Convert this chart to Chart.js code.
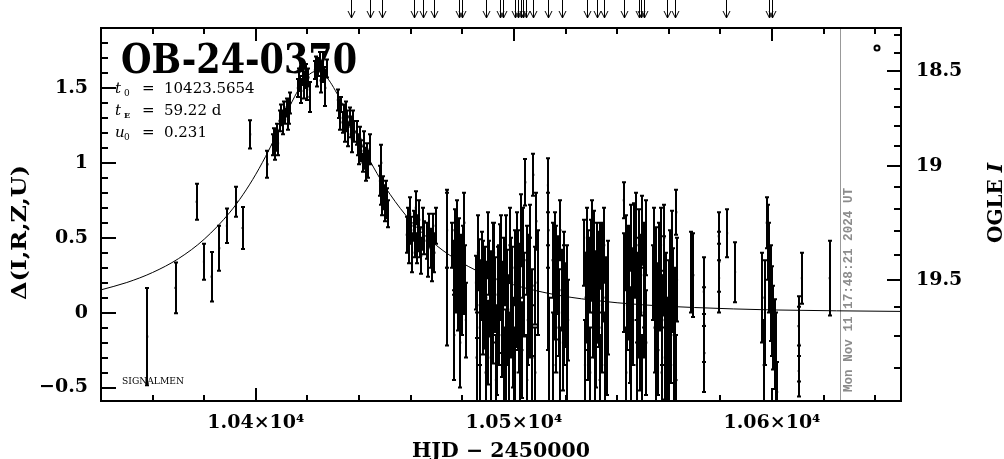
<!DOCTYPE html>
<html>
<head>
<meta charset="utf-8">
<script src="https://cdn.jsdelivr.net/npm/chart.js@4"></script>
<style>
    html, body { margin: 0; padding: 0; background: #fff; }
    canvas { display: block; }
</style>
</head>
<body>
<canvas id="lightCurve" width="1004" height="459"></canvas>
<script>
// event + fit parameters shown on the plot
const eventName = 'OB-24-0370';
const fitLines = [['t', '0', '10423.5654'], ['t', 'E', '59.22 d'], ['u', '0', '0.231']];
const nowHjd = 10626.24;
const nowLabel = 'Mon Nov 11 17:48:21 2024 UT';

const xMin = 10340, xMax = 10650;
const yMin = -0.59, yMax = 1.9;

// model curve
const modelHjd = [10340, 10350, 10360, 10370, 10380, 10390, 10395, 10400, 10405, 10410,
    10415, 10420, 10423.6, 10427, 10432, 10437, 10442, 10447, 10452, 10460,
    10470, 10480, 10490, 10500, 10515, 10530, 10550, 10570, 10600, 10650];
const modelDelta = [0.152, 0.201, 0.268, 0.360, 0.490, 0.671, 0.787, 0.924, 1.083, 1.261,
    1.441, 1.578, 1.612, 1.580, 1.445, 1.266, 1.087, 0.928, 0.790, 0.612,
    0.448, 0.331, 0.246, 0.185, 0.123, 0.084, 0.052, 0.034, 0.018, 0.008];

// observations: HJD-2450000, delta, error
const obsHjd = [
    10357.9, 10368.9, 10377.1, 10379.9, 10382.9, 10385.8, 10388.8, 10392.5, 10394.9, 10397.8,
    10404.5, 10406.5, 10406.9, 10407.3, 10407.8, 10408.3, 10408.6, 10409.2, 10409.6, 10410.1, 10410.5, 10411.0, 10411.4, 10411.9, 10412.4, 10412.8, 10413.3,
    10416.3, 10416.7, 10417.2, 10417.6, 10418.1, 10418.5, 10419.0, 10419.4, 10419.9, 10420.4, 10420.8,
    10422.9, 10423.3, 10423.8, 10424.2, 10424.7, 10425.1, 10425.6, 10426.0, 10426.5, 10426.9, 10427.4,
    10431.8, 10432.2, 10432.7, 10433.1, 10433.6, 10434.0, 10434.5, 10434.9, 10435.4, 10435.8, 10436.3, 10436.7, 10437.2, 10437.6, 10438.1,
    10439.1, 10439.6, 10440.0, 10440.5, 10440.9, 10441.4, 10441.8, 10442.3, 10442.7, 10443.2, 10443.6, 10444.1,
    10448.1, 10448.5, 10448.6, 10448.9, 10449.3, 10449.7, 10450.1, 10450.5, 10450.9, 10451.2,
    10458.5, 10458.9, 10459.3, 10459.8, 10460.2, 10460.6, 10461.1, 10461.5, 10462.0, 10462.4, 10462.8, 10463.3, 10463.7, 10464.1, 10464.6, 10465.0,
    10466.2, 10466.7, 10467.2, 10467.7, 10468.2, 10468.7, 10469.2, 10469.7, 10473.9, 10474.1,
    10476.2, 10476.6, 10477.0, 10477.4, 10477.8, 10478.2, 10478.6, 10479.0, 10479.4, 10479.8, 10480.2, 10480.6, 10481.0, 10481.4,
    10476.9, 10478.0, 10479.2, 10480.8,
    10485.3, 10485.8, 10486.3, 10486.8, 10487.3, 10487.8, 10488.3, 10488.8, 10489.3, 10489.8, 10490.3, 10490.8, 10491.3, 10491.8, 10492.3,
    10492.8, 10493.3, 10493.8, 10494.3, 10494.8, 10495.3, 10495.8, 10496.3, 10496.8, 10497.3, 10497.8, 10498.3, 10498.8, 10499.3, 10499.8,
    10485.55, 10486.05, 10487.05, 10488.05, 10489.05, 10490.05, 10491.05, 10492.05, 10493.05, 10494.05, 10495.05, 10496.05, 10497.05, 10498.05, 10499.05,
    10500.3, 10500.8, 10501.3, 10501.8, 10502.3, 10502.8, 10503.3, 10503.8, 10504.4, 10504.9, 10505.4, 10505.9, 10506.4, 10506.9, 10507.5, 10508.0, 10508.7,
    10500.55, 10501.55, 10502.55, 10503.55, 10505.15, 10506.15, 10507.15, 10508.3, 10509.2,
    10513.2, 10513.3, 10513.4, 10513.5,
    10515.0, 10515.5, 10516.0, 10516.5, 10517.0, 10517.5, 10518.0, 10518.5, 10519.0, 10519.5, 10520.0, 10520.5, 10521.0,
    10515.25, 10516.25, 10517.75, 10519.25, 10520.75,
    10527.3, 10527.8, 10528.3, 10528.8, 10529.3, 10530.0, 10530.5, 10531.0, 10531.5, 10532.0, 10532.5, 10533.0, 10533.5, 10534.0, 10534.5, 10535.0, 10535.5, 10536.0,
    10527.55, 10528.55, 10529.55, 10530.25, 10531.25, 10532.25, 10533.25, 10534.25, 10535.25, 10536.3,
    10542.6, 10542.8,
    10543.3, 10543.8, 10544.3, 10544.8, 10545.3, 10545.8, 10546.3, 10546.8, 10547.3, 10547.8, 10548.3, 10548.8, 10549.3, 10549.8, 10550.3, 10550.8,
    10543.55, 10544.55, 10545.55, 10546.55, 10547.55, 10548.55, 10549.55, 10550.55, 10551.0, 10551.3,
    10554.0, 10554.5, 10555.0, 10555.5, 10556.0, 10556.5, 10557.0, 10557.5, 10558.0, 10558.5, 10559.0,
    10560.0, 10560.5, 10561.0, 10561.5, 10562.0, 10562.5, 10562.9, 10563.2,
    10554.25, 10555.25, 10556.25, 10557.25, 10558.25, 10559.25, 10560.25, 10561.25, 10562.25, 10563.0,
    10568.7, 10569.5, 10573.6, 10573.7, 10573.8, 10579.4, 10579.5, 10579.6, 10582.6, 10585.7,
    10596.3, 10596.8, 10597.3, 10598.0, 10598.5, 10599.0, 10599.5, 10600.0, 10600.5, 10601.0, 10601.5, 10602.0,
    10610.3, 10610.4, 10610.5, 10611.6, 10622.4
];
const obsDelta = [
    -0.16, 0.165, 0.74, 0.34, 0.24, 0.43, 0.58, 0.74, 0.565, 1.19,
    0.99, 1.12, 1.17, 1.10, 1.15, 1.20, 1.13, 1.28, 1.33, 1.30, 1.26, 1.35, 1.31, 1.37, 1.29, 1.34, 1.40,
    1.50, 1.56, 1.53, 1.48, 1.58, 1.52, 1.55, 1.60, 1.49, 1.57, 1.44,
    1.62, 1.66, 1.58, 1.64, 1.69, 1.55, 1.61, 1.67, 1.59, 1.50, 1.63,
    1.42, 1.36, 1.30, 1.39, 1.27, 1.33, 1.22, 1.35, 1.28, 1.19, 1.31, 1.24, 1.16, 1.29, 1.21,
    1.20, 1.12, 1.05, 1.16, 1.08, 1.00, 1.12, 1.03, 0.96, 1.07, 0.99, 1.09,
    0.88, 0.80, 1.00, 0.74, 0.84, 0.77, 0.70, 0.81, 0.73, 0.66,
    0.52, 0.60, 0.45, 0.66, 0.55, 0.40, 0.58, 0.49, 0.70, 0.43, 0.53, 0.62, 0.47, 0.38, 0.56, 0.50,
    0.48, 0.38, 0.55, 0.43, 0.33, 0.51, 0.40, 0.58, 0.30, 0.55,
    0.45, 0.30, 0.55, 0.20, 0.38, 0.10, 0.48, 0.25, 0.35, 0.05, 0.42, 0.18, 0.30, -0.05,
    -0.15, 0.55, -0.20, 0.60,
    0.20, 0.05, 0.32, -0.10, 0.15, 0.38, -0.02, 0.25, 0.10, -0.20, 0.30, 0.05, 0.18, -0.08, 0.40,
    0.12, -0.25, 0.22, 0.00, 0.35, -0.15, 0.08, 0.28, -0.30, 0.15, -0.05, 0.45, 0.02, 0.20, -0.20,
    -0.30, 0.40, -0.35, 0.10, -0.40, 0.45, -0.30, 0.20, -0.45, 0.05, 0.30, -0.40, 0.35, -0.35, 0.10,
    0.30, 0.05, 0.45, -0.10, 0.20, 0.55, -0.25, 0.12, 0.87, 0.35, -0.05, 0.25, 0.50, 0.00, 0.92, 0.18, 0.61,
    -0.40, 0.15, -0.35, 0.40, -0.45, 0.10, -0.30, -0.40, 0.20,
    0.85, 0.10, 0.55, -0.25,
    0.35, 0.10, 0.45, -0.10, 0.25, 0.00, 0.55, 0.15, -0.20, 0.30, 0.05, 0.20, -0.05,
    -0.35, 0.20, -0.40, 0.05, -0.30,
    0.40, 0.10, 0.50, -0.15, 0.25, 0.35, 0.00, 0.45, 0.15, -0.20, 0.30, 0.05, 0.38, -0.10, 0.20, 0.45, 0.10, -0.25,
    -0.35, 0.15, -0.40, 0.50, -0.30, 0.20, -0.45, 0.30, -0.35, 0.10,
    0.75, 0.20,
    0.40, 0.05, 0.30, -0.15, 0.50, 0.15, -0.05, 0.35, 0.60, 0.10, 0.45, -0.20, 0.25, 0.55, 0.00, 0.30,
    -0.40, 0.20, -0.30, 0.45, -0.35, 0.10, -0.45, 0.25, 0.50, -0.20,
    0.20, -0.10, 0.35, 0.05, -0.25, 0.15, 0.45, -0.05, 0.25, -0.30, 0.10,
    0.05, 0.30, -0.15, 0.15, -0.35, 0.00, 0.67, 0.22,
    0.45, -0.35, 0.30, -0.40, 0.50, -0.25, -0.40, 0.40, -0.20, -0.45,
    0.27, 0.25, 0.14, -0.08, -0.27, 0.51, 0.23, 0.34, 0.53, 0.27,
    0.10, -0.35, 0.00, 0.60, 0.47, 0.30, 0.13, 0.01, -0.10, -0.21, -0.30, -0.53,
    -0.09, -0.39, -0.21, 0.23, 0.23
];
const obsErr = [
    0.325, 0.17, 0.12, 0.12, 0.165, 0.15, 0.115, 0.10, 0.14, 0.095,
    0.09, 0.07, 0.06, 0.08, 0.07, 0.06, 0.08, 0.07, 0.06, 0.05, 0.07, 0.06, 0.05, 0.06, 0.07, 0.08, 0.07,
    0.06, 0.07, 0.05, 0.08, 0.06, 0.09, 0.05, 0.06, 0.07, 0.06, 0.10,
    0.06, 0.05, 0.07, 0.06, 0.05, 0.08, 0.06, 0.07, 0.05, 0.12, 0.06,
    0.07, 0.06, 0.08, 0.05, 0.07, 0.06, 0.08, 0.06, 0.07, 0.08, 0.06, 0.07, 0.09, 0.06, 0.07,
    0.08, 0.07, 0.06, 0.08, 0.07, 0.06, 0.09, 0.07, 0.08, 0.06, 0.09, 0.10,
    0.10, 0.08, 0.12, 0.09, 0.07, 0.08, 0.09, 0.07, 0.10, 0.09,
    0.12, 0.10, 0.12, 0.11, 0.09, 0.13, 0.10, 0.12, 0.11, 0.10, 0.12, 0.13, 0.10, 0.12, 0.14, 0.11,
    0.12, 0.14, 0.11, 0.13, 0.12, 0.15, 0.13, 0.12, 0.52, 0.25,
    0.15, 0.18, 0.14, 0.20, 0.16, 0.22, 0.15, 0.18, 0.17, 0.20, 0.16, 0.19, 0.15, 0.25,
    0.30, 0.20, 0.30, 0.20,
    0.18, 0.22, 0.17, 0.25, 0.20, 0.16, 0.22, 0.19, 0.24, 0.28, 0.18, 0.21, 0.23, 0.26, 0.20,
    0.25, 0.30, 0.22, 0.27, 0.24, 0.28, 0.26, 0.22, 0.32, 0.27, 0.30, 0.25, 0.29, 0.24, 0.30,
    0.30, 0.25, 0.35, 0.38, 0.30, 0.22, 0.35, 0.40, 0.30, 0.40, 0.35, 0.30, 0.30, 0.35, 0.40,
    0.25, 0.28, 0.22, 0.30, 0.26, 0.24, 0.32, 0.28, 0.155, 0.23, 0.30, 0.27, 0.22, 0.29, 0.14, 0.26, 0.19,
    0.30, 0.40, 0.35, 0.30, 0.30, 0.40, 0.35, 0.30, 0.35,
    0.18, 0.35, 0.25, 0.35,
    0.25, 0.28, 0.22, 0.30, 0.26, 0.29, 0.20, 0.27, 0.32, 0.24, 0.28, 0.25, 0.27,
    0.35, 0.38, 0.30, 0.40, 0.35,
    0.22, 0.30, 0.20, 0.30, 0.25, 0.27, 0.30, 0.23, 0.26, 0.30, 0.24, 0.28, 0.22, 0.30, 0.26, 0.25, 0.27, 0.30,
    0.30, 0.40, 0.30, 0.25, 0.35, 0.40, 0.30, 0.30, 0.35, 0.38,
    0.12, 0.33,
    0.25, 0.30, 0.28, 0.32, 0.22, 0.28, 0.30, 0.25, 0.20, 0.30, 0.24, 0.32, 0.27, 0.23, 0.30, 0.26,
    0.30, 0.38, 0.35, 0.28, 0.30, 0.40, 0.30, 0.35, 0.25, 0.35,
    0.25, 0.30, 0.22, 0.28, 0.30, 0.27, 0.25, 0.30, 0.26, 0.28, 0.30,
    0.30, 0.25, 0.32, 0.28, 0.30, 0.30, 0.15, 0.28,
    0.25, 0.30, 0.30, 0.30, 0.22, 0.35, 0.30, 0.28, 0.35, 0.30,
    0.27, 0.28, 0.23, 0.25, 0.26, 0.16, 0.23, 0.20, 0.16, 0.20,
    0.30, 0.30, 0.35, 0.17, 0.25, 0.30, 0.32, 0.30, 0.28, 0.30, 0.30, 0.20,
    0.20, 0.17, 0.25, 0.17, 0.25
];

// dates marked with arrows above the frame
const arrowHjd = [10436.8, 10444.1, 10448.7, 10461.1, 10464.6, 10468.9, 10478.9, 10479.7, 10489.0, 10494.8,
    10495.6, 10500.6, 10501.7, 10502.9, 10503.7, 10504.8, 10507.5, 10513.3, 10518.8, 10528.4,
    10532.3, 10535.0, 10542.7, 10548.5, 10549.3, 10550.5, 10559.4, 10562.5, 10582.2, 10598.8, 10600.0];

// axis ticks
const xTicks = [10360, 10380, 10400, 10420, 10440, 10460, 10480, 10500, 10520, 10540, 10560, 10580, 10600, 10620, 10640];
const xMajor = [10400, 10500, 10600];
const xMajorLabels = ['1.04×10⁴', '1.05×10⁴', '1.06×10⁴'];
const leftTicks = [-0.5, -0.4, -0.3, -0.2, -0.1, 0, 0.1, 0.2, 0.3, 0.4, 0.5, 0.6, 0.7, 0.8, 0.9, 1, 1.1, 1.2, 1.3, 1.4, 1.5, 1.6, 1.7, 1.8, 1.9];
const leftMajorLabels = { '-0.5': '\u22120.5', '0': '0', '0.5': '0.5', '1': '1', '1.5': '1.5' };
const rightMags = [18.3, 18.4, 18.5, 18.6, 18.7, 18.8, 18.9, 19.0, 19.1, 19.2, 19.3, 19.4, 19.5, 19.6, 19.7, 19.8];
const rightMajorLabels = { '18.5': '18.5', '19': '19', '19.5': '19.5' };

// OGLE I magnitude -> delta (baseline mag and blended flux fraction)
const baseMag = 19.62;
const blendFrac = 0.473;
function magToDelta(m) {
    const flux = Math.pow(10, -0.4 * (m - baseMag));
    return 2.5 * Math.log10((flux - blendFrac) / (1 - blendFrac));
}

const serif = '"DejaVu Serif", "Liberation Serif", serif';
const tickFont = { family: serif, size: 19, weight: 'bold' };

function fitText(ctx, text, x, y, width) {
    const w = ctx.measureText(text).width;
    ctx.save();
    ctx.translate(x, y);
    ctx.scale(width / w, 1);
    ctx.fillText(text, 0, 0);
    ctx.restore();
}

const annotations = {
    id: 'annotations',
    beforeDatasetsDraw(chart) {
        const { ctx, chartArea: a, scales: { x, y } } = chart;
        ctx.save();
        ctx.fillStyle = '#000';
        ctx.textBaseline = 'alphabetic';

        // event name
        ctx.font = 'bold 41px ' + serif;
        fitText(ctx, eventName, 121, 73, 236);

        // fit parameters
        fitLines.forEach(([sym, sub, val], i) => {
            const base = 93 + i * 22;
            ctx.font = 'italic 15px ' + serif;
            ctx.fillText(sym, 115, base);
            ctx.font = (sub === 'E' ? 'bold 8px ' : '9px ') + serif;
            ctx.fillText(sub, 124, base + 3);
            ctx.font = '15px ' + serif;
            ctx.fillText('=', 142, base);
            ctx.fillText(val, 164, base);
        });

        ctx.font = '9px ' + serif;
        fitText(ctx, 'SIGNALMEN', 122, 384, 62);

        // current time marker
        const nx = Math.round(x.getPixelForValue(nowHjd)) + 0.5;
        ctx.strokeStyle = '#999';
        ctx.lineWidth = 1;
        ctx.beginPath();
        ctx.moveTo(nx, a.top);
        ctx.lineTo(nx, a.bottom);
        ctx.stroke();
        ctx.save();
        ctx.translate(nx + 11.5, a.bottom - 9);
        ctx.rotate(-Math.PI / 2);
        ctx.fillStyle = '#8c8c8c';
        ctx.font = 'bold 12.5px "Liberation Mono", "DejaVu Sans Mono", monospace';
        fitText(ctx, nowLabel, 0, 0, 204);
        ctx.restore();

        // small marker top right
        ctx.lineWidth = 2;
        ctx.strokeStyle = '#000';
        ctx.beginPath();
        ctx.arc(877, 48, 2.5, 0, Math.PI * 2);
        ctx.stroke();

        // arrows above the frame
        ctx.lineWidth = 1;
        ctx.beginPath();
        arrowHjd.forEach(h => {
            const px = Math.round(x.getPixelForValue(h)) + 0.5;
            ctx.moveTo(px, 0);
            ctx.lineTo(px, 18);
            ctx.moveTo(px - 3.5, 11);
            ctx.lineTo(px, 18);
            ctx.lineTo(px + 3.5, 11);
        });
        ctx.stroke();

        // axis titles
        ctx.font = 'bold 20px ' + serif;
        fitText(ctx, 'HJD \u2212 2450000', 412, 457, 178);
        ctx.save();
        ctx.translate(26, 300);
        ctx.rotate(-Math.PI / 2);
        fitText(ctx, '\u0394(I,R,Z,U)', 0, 0, 135);
        ctx.restore();
        ctx.save();
        ctx.translate(1002, 243);
        ctx.rotate(-Math.PI / 2);
        ctx.font = 'bold 20px ' + serif;
        ctx.fillText('OGLE ', 0, 0);
        const w = ctx.measureText('OGLE ').width;
        ctx.font = 'bold italic 20px ' + serif;
        ctx.fillText('I', w, 0);
        ctx.restore();

        // error bars
        ctx.save();
        ctx.beginPath();
        ctx.rect(a.left, a.top, a.right - a.left, a.bottom - a.top);
        ctx.clip();
        ctx.lineWidth = 2;
        ctx.beginPath();
        obsHjd.forEach((h, i) => {
            const px = Math.round(x.getPixelForValue(h));
            const top = y.getPixelForValue(obsDelta[i] + obsErr[i]);
            const bot = y.getPixelForValue(obsDelta[i] - obsErr[i]);
            ctx.moveTo(px, top);
            ctx.lineTo(px, bot);
            ctx.moveTo(px - 2, top);
            ctx.lineTo(px + 2, top);
            ctx.moveTo(px - 2, bot);
            ctx.lineTo(px + 2, bot);
        });
        ctx.stroke();
        ctx.restore();
        ctx.restore();
    },
    afterDatasetsDraw(chart) {
        const { ctx, chartArea: a, scales } = chart;
        ctx.save();
        ctx.strokeStyle = '#000';
        ctx.lineWidth = 2;
        ctx.beginPath();
        scales.x.ticks.forEach(t => {
            const px = Math.round(scales.x.getPixelForValue(t.value));
            const len = xMajor.includes(t.value) ? 13 : 6;
            ctx.moveTo(px, a.bottom);
            ctx.lineTo(px, a.bottom - len);
            ctx.moveTo(px, a.top);
            ctx.lineTo(px, a.top + len);
        });
        scales.y.ticks.forEach(t => {
            const py = Math.round(scales.y.getPixelForValue(t.value));
            const len = (String(t.value) in leftMajorLabels) ? 15 : 7;
            ctx.moveTo(a.left, py);
            ctx.lineTo(a.left + len, py);
        });
        scales.y2.ticks.forEach(t => {
            const py = Math.round(scales.y2.getPixelForValue(t.value));
            const len = (String(t.mag) in rightMajorLabels) ? 14 : 7;
            ctx.moveTo(a.right, py);
            ctx.lineTo(a.right - len, py);
        });
        ctx.stroke();
        ctx.strokeRect(a.left, a.top, a.right - a.left, a.bottom - a.top);
        ctx.restore();
    }
};

new Chart(document.getElementById('lightCurve'), {
    type: 'scatter',
    data: {
        datasets: [
            {
                data: modelHjd.map((h, i) => ({ x: h, y: modelDelta[i] })),
                showLine: true,
                borderColor: '#000',
                borderWidth: 1,
                pointRadius: 0,
                cubicInterpolationMode: 'monotone'
            },
            {
                data: obsHjd.map((h, i) => ({ x: h, y: obsDelta[i] })),
                pointStyle: 'rect',
                pointRadius: 1.5,
                backgroundColor: '#000',
                borderWidth: 0
            }
        ]
    },
    options: {
        responsive: false,
        animation: false,
        devicePixelRatio: 1,
        layout: { padding: { top: 28, left: 0, right: 0, bottom: 0 } },
        plugins: { legend: { display: false }, tooltip: { enabled: false } },
        scales: {
            x: {
                type: 'linear',
                min: xMin,
                max: xMax,
                afterBuildTicks: (scale) => { scale.ticks = xTicks.map(v => ({ value: v })); },
                afterFit: (scale) => { scale.height = 58; },
                grid: { display: false },
                border: { display: false },
                ticks: {
                    autoSkip: false,
                    maxRotation: 0,
                    padding: 3,
                    color: '#000',
                    font: tickFont,
                    callback: (v) => {
                        const k = xMajor.indexOf(v);
                        return k >= 0 ? xMajorLabels[k] : '';
                    }
                }
            },
            y: {
                type: 'linear',
                position: 'left',
                min: yMin,
                max: yMax,
                afterBuildTicks: (scale) => { scale.ticks = leftTicks.map(v => ({ value: v })); },
                afterFit: (scale) => { scale.width = 101; },
                grid: { display: false },
                border: { display: false },
                ticks: {
                    autoSkip: false,
                    padding: 5,
                    color: '#000',
                    font: tickFont,
                    callback: (v) => leftMajorLabels[String(v)] || ''
                }
            },
            y2: {
                type: 'linear',
                position: 'right',
                min: yMin,
                max: yMax,
                afterBuildTicks: (scale) => {
                    scale.ticks = rightMags.map(m => ({ value: magToDelta(m), mag: m }));
                },
                afterFit: (scale) => { scale.width = 103; },
                grid: { display: false },
                border: { display: false },
                ticks: {
                    autoSkip: false,
                    padding: 7,
                    color: '#000',
                    font: tickFont,
                    callback: (v, i, ticks) => rightMajorLabels[String(ticks[i].mag)] || ''
                }
            }
        }
    },
    plugins: [annotations]
});
</script>
</body>
</html>
